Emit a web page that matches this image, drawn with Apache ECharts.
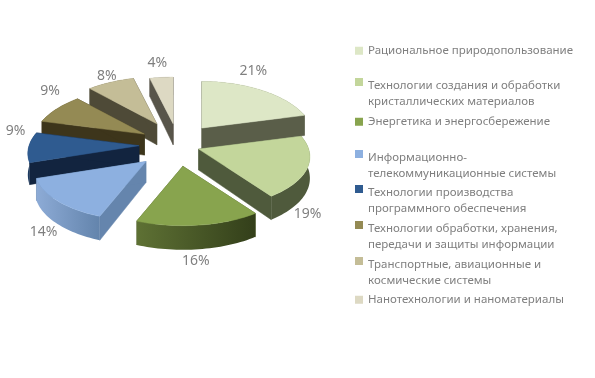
<!DOCTYPE html>
<html>
<head>
<meta charset="utf-8">
<script src="https://cdn.jsdelivr.net/npm/echarts@6/dist/echarts.min.js"></script>
<style>
  html, body { margin: 0; padding: 0; background: #fff; }
  #grafico { width: 595px; height: 378px; }
</style>
</head>
<body>
<div id="grafico"></div>
<script>
// dados
const nomes = [
    'Рациональное природопользование',
    'Технологии создания и обработки\nкристаллических материалов',
    'Энергетика и энергосбережение',
    'Информационно-\nтелекоммуникационные системы',
    'Технологии производства\nпрограммного обеспечения',
    'Технологии обработки, хранения,\nпередачи и защиты информации',
    'Транспортные, авиационные и\nкосмические системы',
    'Нанотехнологии и наноматериалы'
];
const valores = [21, 19, 16, 14, 9, 9, 8, 4];

// estilo de cada fatia
const coresTopo = ['#dde7c6', '#c3d69b', '#88a44e', '#8db0e0', '#2f5b90', '#948a54', '#c4bd97', '#ddd9c3'];
const coresCorte = ['#5a5e49', '#4f5a3c', '#4f5f2a', '#6585ad', '#12243f', '#3d351b', '#4e4a37', '#58554a'];
const coresLadoIni = ['#5a5e49', '#4f5a3c', '#333f1a', '#6384ac', '#1c3a60', '#3d351b', '#4e4a37', '#58554a'];
const coresLadoFim = ['#5a5e49', '#4f5a3c', '#5e7134', '#8dabd6', '#1c3a60', '#3d351b', '#4e4a37', '#58554a'];

// layout
const centroX = 178, centroY = 145;
const raioX = 110, raioY = 53, profundidade = 21;
const perspX = 0.15, perspY = 0.12;
const explosoes = [39, 22, 39, 44, 39, 39, 44, 39];
const ajusteRotulo = [[-8, -19], [0, 46], [-3, 36], [-14, 31], [-13, -16], [-7, -18], [-4, -6], [-4, -14]];
const topoLegenda = [43, 78, 114, 150, 185, 221, 257, 292];

const total = valores.reduce((a, b) => a + b, 0);
const EXPLODE_Y = 0.55;

// angulo acumulado de cada fatia, a partir do topo e em sentido horário
const inicios = [];
valores.reduce((acum, v) => { inicios.push(acum / total * Math.PI * 2); return acum + v; }, 0);

function pontoNoTopo(ox, oy, ang) {
    const u = Math.sin(ang), v = -Math.cos(ang);
    return [
        ox + raioX * u * (1 + perspX * v),
        oy + raioY * v * (1 + perspY * v)
    ];
}

function desce(p, v) {
    return [p[0], p[1] + profundidade * (1 + 0.15 * v)];
}

function desenhaFatia(i) {
    const a0 = inicios[i];
    const a1 = a0 + valores[i] / total * Math.PI * 2;
    const meio = (a0 + a1) / 2;
    const ox = centroX + explosoes[i] * Math.sin(meio);
    const oy = centroY - explosoes[i] * EXPLODE_Y * Math.cos(meio);

    const arco = [], vs = [];
    const passos = Math.max(4, Math.ceil((a1 - a0) / 0.03));
    for (let k = 0; k <= passos; k++) {
        const ang = a0 + (a1 - a0) * k / passos;
        arco.push(pontoNoTopo(ox, oy, ang));
        vs.push(-Math.cos(ang));
    }
    const apice = [ox, oy];
    const apiceBaixo = desce(apice, 0);
    const arcoBaixo = arco.map((p, k) => desce(p, vs[k]));

    const corte = (p, pb) => ({
        type: 'polygon',
        shape: { points: [apice, p, pb, apiceBaixo] },
        style: { fill: coresCorte[i], stroke: coresCorte[i], lineWidth: 0.5 }
    });

    const meioRot = pontoNoTopo(ox, oy, meio);
    return {
        type: 'group',
        children: [
            corte(arco[0], arcoBaixo[0]),
            corte(arco[passos], arcoBaixo[passos]),
            {
                type: 'polygon',
                shape: { points: arco.concat(arcoBaixo.slice().reverse()) },
                style: {
                    fill: new echarts.graphic.LinearGradient(0, 0, 1, 0, [
                        { offset: 0, color: coresLadoFim[i] },
                        { offset: 1, color: coresLadoIni[i] }
                    ])
                }
            },
            {
                type: 'polygon',
                shape: { points: [apice].concat(arco) },
                style: { fill: coresTopo[i], stroke: coresTopo[i], lineWidth: 0.5 }
            },
            {
                type: 'text',
                style: {
                    text: valores[i] + '%',
                    x: meioRot[0] + ajusteRotulo[i][0],
                    y: meioRot[1] + ajusteRotulo[i][1],
                    align: 'center',
                    verticalAlign: 'middle',
                    fill: '#7f7f7f',
                    font: '14px "Noto Sans"'
                }
            }
        ]
    };
}

// ordem de pintura: de trás para a frente
const ordem = valores.map((v, i) => i).sort((a, b) => {
    const meio = i => inicios[i] + valores[i] / total * Math.PI;
    return -Math.cos(meio(a)) - -Math.cos(meio(b));
});

const myChart = echarts.init(document.getElementById('grafico'));

myChart.setOption({
    animation: false,
    backgroundColor: '#ffffff',
    legend: nomes.map((nome, i) => {
        const duasLinhas = nome.includes('\n');
        return {
            data: [nome],
            left: 355,
            top: topoLegenda[i],
            orient: 'vertical',
            padding: 0,
            selectedMode: false,
            itemWidth: 8,
            itemHeight: duasLinhas ? 31 : 8,
            // quadrado no alto do item, alinhado com a primeira linha
            icon: duasLinhas ? 'path://M0 0H8V8H0Z M0 31H0' : 'rect',
            textStyle: { color: '#7f7f7f', fontSize: 11.5, lineHeight: 15.5, fontFamily: '"Noto Sans"' }
        };
    }),
    series: nomes.map((nome, i) => ({
        type: 'custom',
        name: nome,
        coordinateSystem: 'none',
        z: 2 + ordem.indexOf(i),
        silent: true,
        itemStyle: { color: coresTopo[i] },
        data: [valores[i]],
        renderItem: () => desenhaFatia(i)
    }))
});
</script>
</body>
</html>
